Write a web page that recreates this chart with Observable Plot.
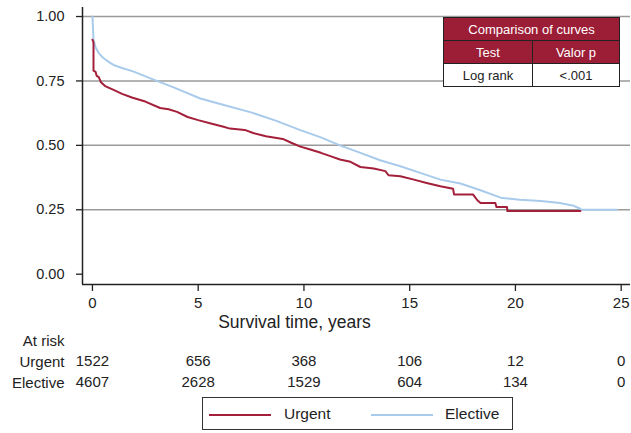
<!DOCTYPE html>
<html>
<head>
<meta charset="utf-8">
<script src="https://cdn.jsdelivr.net/npm/d3@7"></script>
<script src="https://cdn.jsdelivr.net/npm/@observablehq/plot@0.6"></script>
<style>
  html, body { margin: 0; padding: 0; background: #fff; }
  #wrap { position: relative; width: 631px; height: 433px; font-family: "Liberation Sans", Arial, sans-serif; color: #222; }
  #tbl { position: absolute; left: 443px; top: 17px; width: 177px; border-collapse: collapse; font-size: 13px; }
  #tbl td { border: 1px solid #222; text-align: center; padding: 0; height: 22px; }
  #tbl .hd { background: #9c1d36; color: #fff; }
  #legend { position: absolute; left: 202px; top: 397px; width: 311px; height: 33px; border: 1px solid #333; box-sizing: border-box; font-size: 15.5px; }
  #legend .sw { position: absolute; top: 16px; height: 0; border-top: 2px solid; width: 62px; }
  #legend .lb { position: absolute; top: 7px; }
</style>
</head>
<body>
<div id="wrap"></div>
<script>
// ---- data ----
const groups = ["Urgent", "Elective"];
const groupColors = ["#a31f3a", "#a8cbec"];

const urgentTime = [0, 0.05, 0.05, 0.15, 0.2, 0.3, 0.4, 0.6, 1.0, 1.4, 1.9, 2.5, 3.2, 3.6, 4.0, 4.5, 5.0, 5.6, 6.2, 6.5, 7.2, 7.6, 8.2, 9.0, 9.4, 9.83, 10.3, 10.8, 11.25, 11.7, 12.2, 12.67, 13.3, 13.85, 14.0, 14.56, 15.2, 15.8, 16.45, 17.05, 17.1, 18.0, 18.2, 18.35, 19.05, 19.1, 19.6, 19.62, 23.07];
const urgentSurv = [0.91, 0.90, 0.79, 0.785, 0.77, 0.765, 0.745, 0.73, 0.715, 0.70, 0.685, 0.67, 0.645, 0.64, 0.63, 0.61, 0.598, 0.585, 0.572, 0.565, 0.56, 0.548, 0.535, 0.525, 0.51, 0.495, 0.484, 0.471, 0.458, 0.445, 0.436, 0.416, 0.41, 0.40, 0.384, 0.38, 0.367, 0.354, 0.341, 0.332, 0.309, 0.309, 0.287, 0.276, 0.276, 0.261, 0.261, 0.245, 0.245];

const electiveTime = [0, 0.03, 0.05, 0.15, 0.3, 0.5, 0.8, 1.0, 1.4, 1.95, 2.74, 3.84, 5.1, 6.3, 7.5, 8.7, 9.83, 10.8, 11.7, 12.67, 13.6, 14.56, 15.5, 16.45, 17.4, 18.35, 19.3, 20.2, 21.2, 22.1, 22.7, 23.07, 23.1, 24.8];
const electiveSurv = [1.0, 0.95, 0.91, 0.88, 0.858, 0.84, 0.822, 0.812, 0.80, 0.786, 0.76, 0.725, 0.682, 0.655, 0.628, 0.595, 0.559, 0.531, 0.50, 0.471, 0.442, 0.419, 0.393, 0.367, 0.352, 0.326, 0.297, 0.289, 0.284, 0.276, 0.267, 0.254, 0.25, 0.25];

const xTicks = [0, 5, 10, 15, 20, 25];
const yTicks = [0, 0.25, 0.5, 0.75, 1];
const gridValues = [0.25, 0.5, 0.75, 1];
const urgentAtRisk = [1522, 656, 368, 106, 12, 0];
const electiveAtRisk = [4607, 2628, 1529, 604, 134, 0];

const xDomain = [-0.47, 25.44];
const yDomain = [-0.04, 1.035];

// ---- build ----
const urgentData = urgentTime.map((t, i) => ({t, s: urgentSurv[i]}));
const electiveData = electiveTime.map((t, i) => ({t, s: electiveSurv[i]}));
const font = "Liberation Sans, Arial, sans-serif";

const chart = Plot.plot({
  width: 631,
  height: 433,
  marginTop: 7,
  marginBottom: 149,
  marginLeft: 82,
  marginRight: 1,
  x: {domain: xDomain},
  y: {domain: yDomain},
  style: {fontFamily: font, fontSize: "15px", color: "#222", background: "white", overflow: "visible"},
  marks: [
    Plot.ruleY(gridValues, {stroke: "#9a9a9a", strokeWidth: 1.5}),
    Plot.axisY(yTicks, {tickFormat: d3.format(".2f"), tickSize: 6, tickPadding: 12, label: null, fontSize: 14.5, strokeWidth: 1.3}),
    Plot.axisX(xTicks, {tickSize: 7, tickPadding: 6, label: null, fontSize: 15, strokeWidth: 1.3}),
    Plot.ruleX([xDomain[0]], {stroke: "#222", strokeWidth: 1.5}),
    Plot.ruleY([yDomain[0]], {stroke: "#222", strokeWidth: 1.5}),
    Plot.line(electiveData, {x: "t", y: "s", stroke: groupColors[1], strokeWidth: 2}),
    Plot.line(urgentData, {x: "t", y: "s", stroke: groupColors[0], strokeWidth: 2}),
    Plot.text(["Survival time, years"], {frameAnchor: "bottom-left", dx: 212, dy: 43, fontSize: 17.5, textAnchor: "middle"}),
    Plot.text(["At risk"], {frameAnchor: "bottom-left", dx: -18, dy: 61, textAnchor: "end", fontSize: 15}),
    Plot.text([groups[0]], {frameAnchor: "bottom-left", dx: -18, dy: 82, textAnchor: "end", fontSize: 15}),
    Plot.text([groups[1]], {frameAnchor: "bottom-left", dx: -18, dy: 103, textAnchor: "end", fontSize: 15}),
    Plot.text(xTicks, {x: d => d, text: (d, i) => String(urgentAtRisk[i]), frameAnchor: "bottom", dy: 81, fontSize: 15}),
    Plot.text(xTicks, {x: d => d, text: (d, i) => String(electiveAtRisk[i]), frameAnchor: "bottom", dy: 102, fontSize: 15})
  ]
});

const wrap = document.getElementById("wrap");
wrap.appendChild(chart);

// comparison table
const tbl = document.createElement("table");
tbl.id = "tbl";
tbl.innerHTML = `
  <tr><td class="hd" colspan="2">Comparison of curves</td></tr>
  <tr><td class="hd" style="width:88px">Test</td><td class="hd">Valor p</td></tr>
  <tr><td style="background:#fff">Log rank</td><td style="background:#fff">&lt;.001</td></tr>`;
wrap.appendChild(tbl);

// legend
const leg = document.createElement("div");
leg.id = "legend";
leg.innerHTML = `
  <div class="sw" style="left:6px;border-color:${groupColors[0]}"></div>
  <div class="lb" style="left:81px">${groups[0]}</div>
  <div class="sw" style="left:168px;border-color:${groupColors[1]}"></div>
  <div class="lb" style="left:242px">${groups[1]}</div>`;
wrap.appendChild(leg);
</script>
</body>
</html>
